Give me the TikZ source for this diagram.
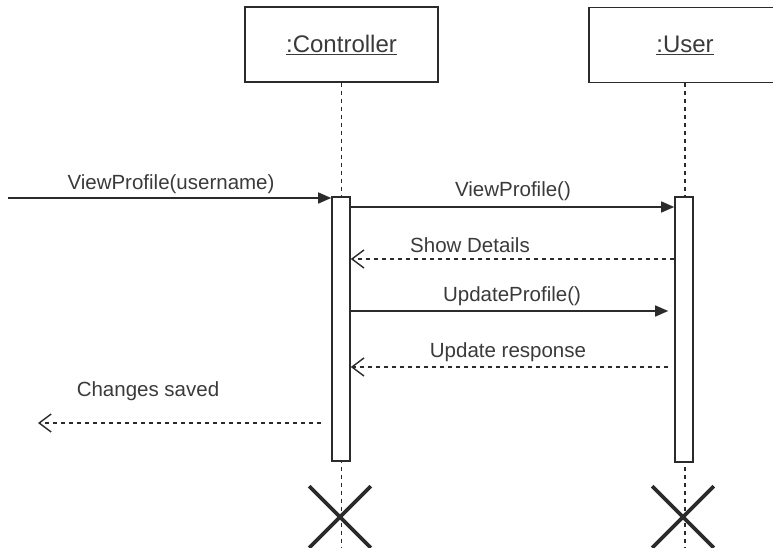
\documentclass[tikz,border=0pt]{standalone}
\usepackage{fontspec}
\setmainfont{Liberation Sans}
\usepackage{xcolor}
\usetikzlibrary{arrows.meta,calc,shapes.misc}

\definecolor{inkgray}{HTML}{2B2B2B}
\definecolor{txtgray}{HTML}{3A3A3A}

\tikzset{
  objbox/.style={draw=inkgray, line width=1.8pt, minimum width=193pt, minimum height=75pt,
    inner sep=0pt, font=\fontsize{24}{28}\selectfont, text=txtgray},
  actbar/.style={draw=inkgray, line width=1.6pt, fill=white, minimum width=18pt,
    minimum height=264pt, inner sep=0pt},
  lifeline/.style={draw=inkgray, line width=1.8pt, dash pattern=on 4pt off 4pt},
  callmsg/.style={draw=inkgray, line width=1.5pt, -{Triangle[length=13pt,width=11pt]}},
  replymsg/.style={draw=inkgray, line width=1.4pt, dash pattern=on 4.5pt off 3.5pt,
    -{Straight Barb[length=12pt,width=18pt,line width=1.4pt]}},
  msglabel/.style={font=\fontsize{20.5}{24}\selectfont, text=txtgray, inner sep=0pt},
  destroy/.style={cross out, draw=inkgray, line width=3.6pt, minimum size=58pt, inner sep=0pt}
}

\begin{document}
\begin{tikzpicture}[x=1pt,y=-1pt]
\useasboundingbox (0,0) rectangle (773,548);

\node[objbox] (ctrl) at (341.5,44.5) {\underline{:Controller}};
\node[objbox, minimum width=192pt] (usr) at (685,45) {\underline{:User}};

\draw[lifeline] (ctrl.south) -- (ctrl.south |- 0,548);
\draw[lifeline] (usr.south) -- (usr.south |- 0,548);

\node[actbar] (cbar) at (341,329) {};
\node[actbar, minimum height=265pt] (ubar) at (684,329.5) {};

\node[destroy] (cend) at (340,517) {};
\node[destroy] (uend) at (683,517) {};

\coordinate (caller) at (8,198);
\coordinate (outside) at (38,423);

\draw[callmsg] (caller) -- (cbar.west |- caller);
\node[msglabel] (l1) at (171,184) {ViewProfile(username)};

\draw[callmsg] (cbar.east |- 0,207) -- (ubar.west |- 0,207);
\node[msglabel] (l2) at (513,191.5) {ViewProfile()};

\draw[replymsg] (ubar.west |- 0,259) -- (cbar.east |- 0,259);
\node[msglabel] (l3) at (470,245) {Show Details};

\draw[callmsg] (cbar.east |- 0,311) -- ([xshift=-6pt]ubar.west |- 0,311);
\node[msglabel] (l4) at (512,296) {UpdateProfile()};

\draw[replymsg] ([xshift=-6pt]ubar.west |- 0,367) -- (cbar.east |- 0,367);
\node[msglabel] (l5) at (508,352) {Update response};

\draw[replymsg] ([xshift=-10pt]cbar.west |- outside) -- (outside);
\node[msglabel] (l6) at (148,391) {Changes saved};

\end{tikzpicture}
\end{document}
